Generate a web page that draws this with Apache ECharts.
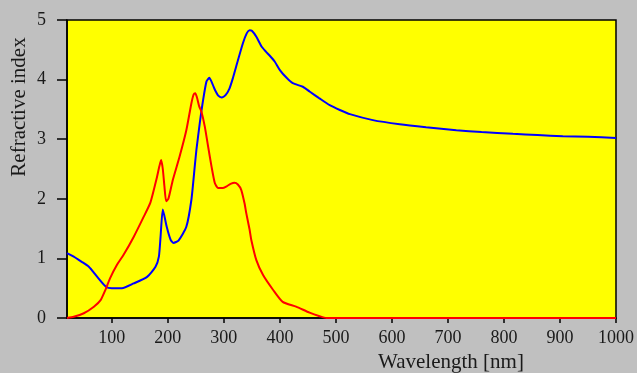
<!DOCTYPE html>
<html>
<head>
<meta charset="utf-8">
<script src="https://cdn.jsdelivr.net/npm/echarts@6/dist/echarts.min.js"></script>
<style>
html,body{margin:0;padding:0;background:#c0c0c0;}
#c{width:637px;height:373px;}
</style>
</head>
<body>
<div id="c"></div>
<script>
// Refractive index n (blue)
var waveN = [20,32,45,59,74,90,100,118,139,163,178,184,187,191,198,205,210,219,233,242,248,251,257,263,269,274,280,284,290,296,303,310,316,322,334,341,346,350,358,367,375,382,391,400,412,423,441,453,470,489,507,525,566,614,661,715,760,816,860,905,950,1000];
var nVals = [1.09,1.03,0.95,0.86,0.69,0.52,0.50,0.50,0.58,0.69,0.86,1.03,1.36,1.82,1.53,1.31,1.26,1.30,1.53,1.98,2.54,2.82,3.27,3.66,3.97,4.03,3.92,3.83,3.73,3.70,3.74,3.85,4.02,4.22,4.61,4.78,4.83,4.82,4.72,4.56,4.47,4.40,4.30,4.16,4.03,3.94,3.88,3.80,3.69,3.57,3.49,3.42,3.32,3.25,3.20,3.15,3.12,3.09,3.07,3.05,3.04,3.02];
// Extinction coefficient k (red)
var waveK = [20,32,50,68,80,88,97,109,121,139,157,169,180,185,188,191,194,197,201,209,221,233,242,246,249,252,256,260,266,272,278,284,290,298,305,312,319,325,331,337,340,346,349,358,370,388,405,429,453,471,483,1000];
var kVals = [0,0.02,0.08,0.19,0.30,0.46,0.67,0.89,1.06,1.36,1.70,1.94,2.34,2.55,2.65,2.50,2.20,1.96,2.00,2.32,2.71,3.15,3.60,3.75,3.77,3.70,3.55,3.46,3.21,2.87,2.54,2.26,2.18,2.18,2.21,2.25,2.27,2.24,2.15,1.92,1.76,1.48,1.31,0.97,0.72,0.47,0.27,0.19,0.09,0.03,0,0];
var xTicks = [100,200,300,400,500,600,700,800,900,1000];
var yTicks = [0,1,2,3,4,5];

function pairs(xs, ys){ return xs.map(function(x,i){ return [x, ys[i]]; }); }

var FONT = '"Liberation Serif", "Times New Roman", serif';
var TXT = '#1a1a1a';
var chart = echarts.init(document.getElementById('c'), null, {renderer:'canvas'});
chart.setOption({
  backgroundColor: '#c0c0c0',
  animation: false,
  grid: {left: 67, right: 20, top: 20, bottom: 55, show: true, backgroundColor: '#ffff00', borderColor: '#000', borderWidth: 1.5},
  xAxis: {
    type: 'value', min: 20, max: 1000,
    axisLine: {show: true, lineStyle: {color: '#000', width: 1.5}},
    axisTick: {show: true, length: 5, customValues: xTicks, lineStyle: {color: '#000', width: 1.5}},
    axisLabel: {customValues: xTicks, margin: 11, color: TXT, fontFamily: FONT, fontSize: 18,
      formatter: function(v){ return String(v); }},
    splitLine: {show: false}
  },
  yAxis: {
    type: 'value', min: 0, max: 5, interval: 1,
    axisLine: {show: true, lineStyle: {color: '#000', width: 1.5}},
    axisTick: {show: true, length: 10, customValues: yTicks, lineStyle: {color: '#000', width: 1.5}},
    axisLabel: {customValues: yTicks, margin: 21, color: TXT, fontFamily: FONT, fontSize: 18,
      formatter: function(v){ return String(v); }},
    splitLine: {show: false}
  },
  graphic: [
    {type: 'text', x: 451, y: 362, style: {text: 'Wavelength [nm]', fill: TXT, font: '21px ' + FONT, align: 'center', verticalAlign: 'middle'}},
    {type: 'text', x: 19, y: 107, rotation: Math.PI/2, style: {text: 'Refractive index', fill: TXT, font: '21px ' + FONT, align: 'center', verticalAlign: 'middle'}}
  ],
  series: [
    {type: 'line', data: pairs(waveN, nVals), showSymbol: false, smooth: 0.2, clip: false, lineStyle: {color: '#0000ff', width: 2}, z: 3},
    {type: 'line', data: pairs(waveK, kVals), showSymbol: false, smooth: 0.2, clip: false, lineStyle: {color: '#ff0000', width: 2}, z: 4}
  ]
});
</script>
</body>
</html>
